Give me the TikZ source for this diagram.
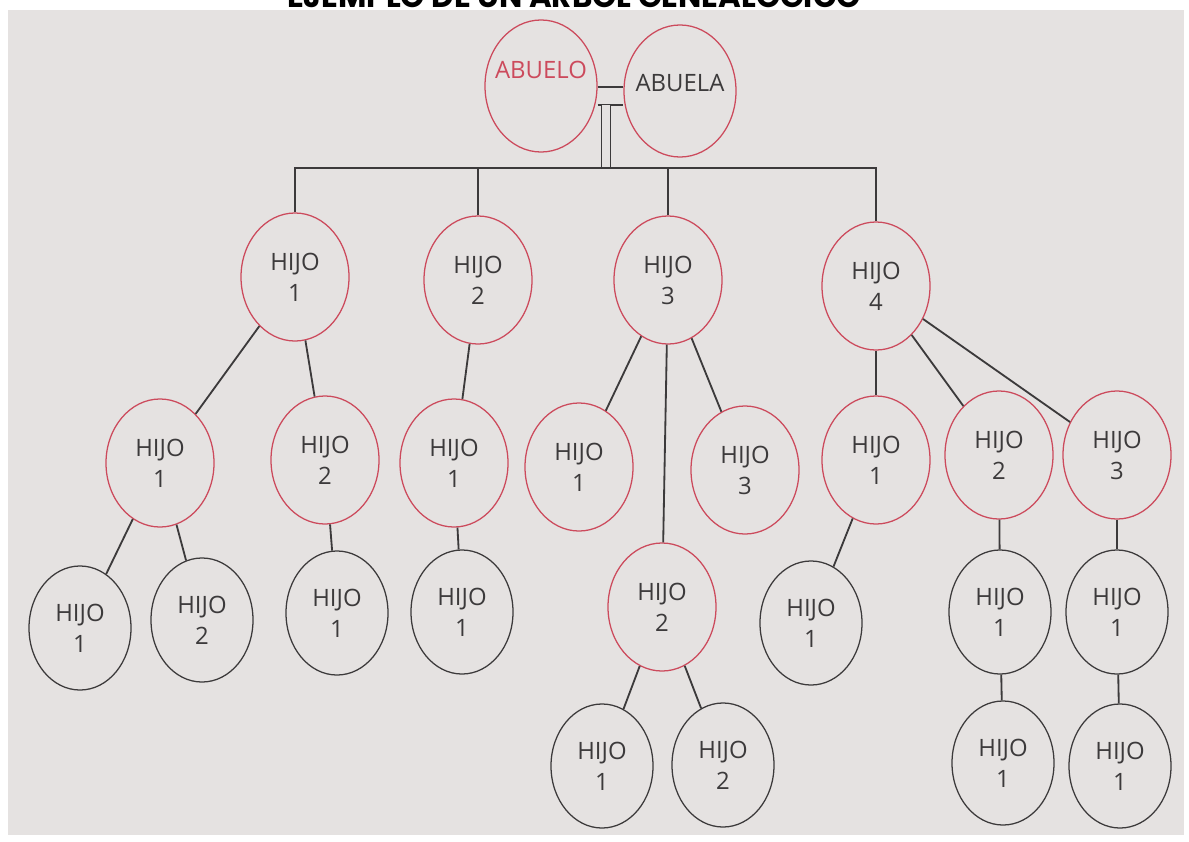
\documentclass[tikz,border=0pt]{standalone}
\usepackage{fontspec}
\setmainfont{Open Sans}
\newfontfamily\titlefont{Poppins}
\usetikzlibrary{shapes.geometric}
\definecolor{papel}{HTML}{E5E2E1}
\definecolor{rojo}{HTML}{CC4A5C}
\definecolor{lapiz}{HTML}{3C3A3B}

\begin{document}
\begin{tikzpicture}[x=0.025cm,y=-0.025cm,
		nodo/.style={ellipse,draw=rojo,line width=0.9pt,inner sep=0pt,text=lapiz,font=\fontsize{17}{22}\selectfont},
		abuelo/.style={nodo,minimum width=2.8cm,minimum height=3.3cm,text depth=0.8cm},
		hijo/.style={nodo,align=center,minimum width=2.7cm,minimum height=3.2cm},
		nieto/.style={hijo,draw=lapiz,minimum width=2.55cm,minimum height=3.1cm},
		rama/.style={draw=lapiz,line width=1.3pt}
	]
	\clip (0,0) rectangle (1189,841);
	\fill[white] (0,0) rectangle (1189,841);
	\fill[papel] (8,10) rectangle (1184,835);
	\node[font=\titlefont\bfseries\fontsize{22}{22}\selectfont,anchor=base] (titulo) at (574,8) {EJEMPLO DE UN ÁRBOL GENEALÓGICO};

	\node[abuelo,text=rojo] (abuelo) at (541,86) {\makebox[0pt]{ABUELO}};
	\node[abuelo,text depth=0.4cm] (abuela) at (680,91) {\makebox[0pt]{ABUELA}};
	\coordinate (union) at (606,105);
	\coordinate (bus) at (606,168);

	\node[hijo] (h1) at (295,277) {HIJO\\1};
	\node[hijo] (h2) at (478,280) {HIJO\\2};
	\node[hijo] (h3) at (668,280) {HIJO\\3};
	\node[hijo] (h4) at (876,286) {HIJO\\4};

	\node[hijo] (h11) at (160,463) {HIJO\\1};
	\node[hijo] (h12) at (325,460) {HIJO\\2};
	\node[hijo] (h21) at (454,463) {HIJO\\1};
	\node[hijo] (h31) at (579,467) {HIJO\\1};
	\node[hijo] (h32) at (662,607) {HIJO\\2};
	\node[hijo] (h33) at (745,470) {HIJO\\3};
	\node[hijo] (h41) at (876,460) {HIJO\\1};
	\node[hijo] (h42) at (999,455) {HIJO\\2};
	\node[hijo] (h43) at (1117,455) {HIJO\\3};

	\node[nieto] (h111) at (80,628) {HIJO\\1};
	\node[nieto] (h112) at (202,620) {HIJO\\2};
	\node[nieto] (h121) at (337,613) {HIJO\\1};
	\node[nieto] (h211) at (462,612) {HIJO\\1};
	\node[nieto] (h321) at (602,766) {HIJO\\1};
	\node[nieto] (h322) at (723,765) {HIJO\\2};
	\node[nieto] (h411) at (811,623) {HIJO\\1};
	\node[nieto] (h421) at (1000,612) {HIJO\\1};
	\node[nieto] (h4211) at (1003,763) {HIJO\\1};
	\node[nieto] (h431) at (1117,612) {HIJO\\1};
	\node[nieto] (h4311) at (1120,766) {HIJO\\1};

	\draw[rama] (abuelo.east |- 0,87) -- (abuela.west |- 0,87);
	\draw[rama] (abuelo.east |- union) -- (abuela.west |- union);
	\draw[rama,double=papel,double distance=0.18cm] (union) -- (bus);
	\draw[rama] (h1.north) |- (bus) -| (h4.north);
	\draw[rama] (h2.north) -- (h2.north |- bus);
	\draw[rama] (h3.north) -- (h3.north |- bus);

	\draw[rama] (h1) edge (h11) edge (h12);
	\draw[rama] (h2) edge (h21);
	\draw[rama] (h3) edge (h31) edge (h32) edge (h33);
	\draw[rama] (h4) edge (h41) edge (h42) edge (h43);
	\draw[rama] (h11) edge (h111) edge (h112);
	\draw[rama] (h12) edge (h121);
	\draw[rama] (h21) edge (h211);
	\draw[rama] (h32) edge (h321) edge (h322);
	\draw[rama] (h41) edge (h411);
	\draw[rama] (h42) edge (h421);
	\draw[rama] (h421) edge (h4211);
	\draw[rama] (h43) edge (h431);
	\draw[rama] (h431) edge (h4311);
\end{tikzpicture}
\end{document}
